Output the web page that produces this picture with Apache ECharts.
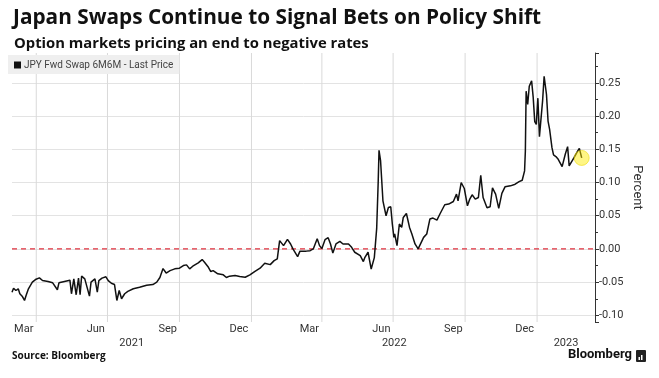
<!DOCTYPE html>
<html><head><meta charset="utf-8">
<script src="https://cdn.jsdelivr.net/npm/echarts@6/dist/echarts.min.js"></script>
<style>html,body{margin:0;padding:0;background:#fff}#c{width:659px;height:378px}</style>
</head><body><div id="c"></div>
<script>
const titleText = 'Japan Swaps Continue to Signal Bets on Policy Shift';
const subtitleText = 'Option markets pricing an end to negative rates';
const seriesName = 'JPY Fwd Swap 6M6M - Last Price';
const dates = [
'2021-03-01','2021-03-03','2021-03-06','2021-03-09','2021-03-11','2021-03-14','2021-03-17','2021-03-19','2021-03-22','2021-03-27',
'2021-03-31','2021-04-05','2021-04-09','2021-04-16','2021-04-22','2021-04-28','2021-04-30','2021-05-07','2021-05-14','2021-05-16',
'2021-05-19','2021-05-22','2021-05-25','2021-05-27','2021-05-29','2021-06-02','2021-06-08','2021-06-10','2021-06-15','2021-06-18',
'2021-06-20','2021-06-24','2021-06-29','2021-07-02','2021-07-06','2021-07-10','2021-07-13','2021-07-16','2021-07-19','2021-07-23',
'2021-07-27','2021-08-03','2021-08-11','2021-08-20','2021-08-28','2021-09-02','2021-09-06','2021-09-10','2021-09-14','2021-09-19',
'2021-09-25','2021-10-01','2021-10-06','2021-10-10','2021-10-14','2021-10-18','2021-10-25','2021-10-30','2021-11-02','2021-11-07',
'2021-11-10','2021-11-13','2021-11-19','2021-11-26','2021-11-30','2021-12-04','2021-12-11','2021-12-17','2021-12-24','2021-12-30',
'2022-01-05','2022-01-12','2022-01-18','2022-01-25','2022-01-30','2022-02-03','2022-02-06','2022-02-11','2022-02-16','2022-02-20',
'2022-02-23','2022-02-25','2022-03-01','2022-03-04','2022-03-12','2022-03-17','2022-03-21','2022-03-26','2022-03-29','2022-04-01',
'2022-04-05','2022-04-09','2022-04-12','2022-04-15','2022-04-19','2022-04-24','2022-04-28','2022-05-05','2022-05-09','2022-05-13',
'2022-05-20','2022-05-24','2022-05-26','2022-05-30','2022-06-03','2022-06-07','2022-06-10','2022-06-12','2022-06-13','2022-06-15',
'2022-06-18','2022-06-20','2022-06-22','2022-06-25','2022-06-28','2022-06-30','2022-07-02','2022-07-03','2022-07-06','2022-07-09',
'2022-07-12','2022-07-14','2022-07-18','2022-07-22','2022-07-25','2022-07-29','2022-08-02','2022-08-04','2022-08-09','2022-08-13',
'2022-08-17','2022-08-21','2022-08-26','2022-08-30','2022-09-05','2022-09-10','2022-09-16','2022-09-20','2022-09-22','2022-09-26',
'2022-09-30','2022-10-04','2022-10-07','2022-10-10','2022-10-14','2022-10-18','2022-10-21','2022-10-24','2022-10-29','2022-11-02',
'2022-11-05','2022-11-09','2022-11-13','2022-11-17','2022-11-21','2022-11-28','2022-12-04','2022-12-09','2022-12-13','2022-12-15',
'2022-12-16','2022-12-17','2022-12-18','2022-12-20','2022-12-22','2022-12-25','2022-12-27','2022-12-29','2022-12-31','2023-01-02',
'2023-01-04','2023-01-06','2023-01-08','2023-01-10','2023-01-13','2023-01-15','2023-01-17','2023-01-20','2023-01-22','2023-01-25',
'2023-01-28','2023-02-02','2023-02-06','2023-02-09','2023-02-11','2023-02-17','2023-02-22','2023-02-24','2023-02-27'
];
const values = [
-0.0651,-0.0591,-0.0626,-0.0600,-0.0675,-0.0711,-0.0776,-0.0700,-0.0600,-0.0500,
-0.0461,-0.0435,-0.0476,-0.0490,-0.0510,-0.0615,-0.0510,-0.0490,-0.0470,-0.0675,
-0.0450,-0.0690,-0.0440,-0.0690,-0.0410,-0.0450,-0.0710,-0.0500,-0.0450,-0.0650,
-0.0476,-0.0440,-0.0420,-0.0476,-0.0516,-0.0536,-0.0776,-0.0626,-0.0750,-0.0675,
-0.0640,-0.0600,-0.0576,-0.0546,-0.0536,-0.0500,-0.0430,-0.0296,-0.0363,-0.0326,
-0.0300,-0.0290,-0.0250,-0.0240,-0.0300,-0.0260,-0.0210,-0.0160,-0.0200,-0.0276,
-0.0340,-0.0326,-0.0375,-0.0390,-0.0430,-0.0410,-0.0400,-0.0415,-0.0426,-0.0390,
-0.0340,-0.0290,-0.0216,-0.0236,-0.0176,-0.0150,0.0125,0.0050,0.0144,0.0075,
0.0000,-0.0015,-0.0116,-0.0033,-0.0033,-0.0026,0.0000,0.0155,0.0050,0.0005,
0.0140,0.0170,0.0075,-0.0063,0.0075,0.0114,0.0075,0.0075,0.0024,-0.0050,
-0.0100,-0.0190,-0.0126,-0.0050,-0.0303,-0.0130,0.0305,0.1025,0.1485,0.1325,
0.0725,0.0750,0.0500,0.0624,0.0635,0.0375,0.0174,0.0225,0.0050,0.0375,
0.0324,0.0474,0.0534,0.0324,0.0225,0.0075,0.0000,0.0024,0.0174,0.0225,
0.0450,0.0465,0.0435,0.0530,0.0665,0.0675,0.0714,0.0825,0.0725,0.1000,
0.0910,0.0650,0.0750,0.0815,0.0750,0.0774,0.1110,0.0774,0.0620,0.0635,
0.0920,0.0825,0.0612,0.0837,0.0935,0.0950,0.0975,0.1014,0.1035,0.1050,
0.1175,0.1470,0.2375,0.2175,0.2450,0.2530,0.2285,0.1917,0.1875,0.2270,
0.1690,0.1670,0.2225,0.2600,0.2325,0.1925,0.1800,0.1524,0.1415,0.1390,
0.1350,0.1240,0.1425,0.1540,0.1250,0.1370,0.1475,0.1515,0.1370
];
const monthLabels = ['Mar','Jun','Sep','Dec','Mar','Jun','Sep','Dec'];
const monthLabelDates = ['2021-03-16','2021-06-16','2021-09-16','2021-12-16','2022-03-16','2022-06-16','2022-09-16','2022-12-16'];
const gridLineDates = ['2021-04-01','2021-07-01','2021-10-01','2022-01-01','2022-04-01','2022-07-01','2022-10-01','2023-01-01'];
const yearLabels = ['2021','2022','2023'];
const xStart = '2021-03-01', xEnd = '2023-03-16';
const yMin = -0.11, yMax = 0.295, yStep = 0.05;
const zeroLineValue = 0;

function ts(s){const p=s.split('-').map(Number);return Date.UTC(p[0],p[1]-1,p[2]);}
const xMin = ts(xStart), xMax = ts(xEnd);
const monthLabelTs = monthLabelDates.map(ts);
const gridTs = gridLineDates.map(ts);
const yearMidTs = yearLabels.map(y => {
  const a = Math.max(Date.UTC(+y,0,1), xMin), b = Math.min(Date.UTC(+y+1,0,1), xMax);
  return (a+b)/2;
});
const lineData = dates.map((d,i)=>[ts(d), values[i]]);
const last = lineData[lineData.length-1];
const nTicks = Math.floor((yMax+1e-9)/yStep) - Math.ceil((yMin-1e-9)/yStep) + 1;
const splitColors = ['rgba(0,0,0,0)'].concat(Array(nTicks).fill('#e3e3e3')).concat(['rgba(0,0,0,0)']);
const FONT = 'Roboto';
const TFONT = 'Open Sans';
const RED = '#e0323f';

const gridSeries = gridTs.map(t => ({
  type:'line', data:[[t,yMin],[t,yMax]], symbol:'none', showSymbol:false, silent:true, z:1, clip:false,
  lineStyle:{color:'#d9d9d9', width:1}, emphasis:{disabled:true}
}));

const chart = echarts.init(document.getElementById('c'), null, {renderer:'canvas'});
chart.setOption({
  animation:false,
  backgroundColor:'#fff',
  title:[
    {text:titleText, left:8, top:3, textStyle:{fontFamily:TFONT, fontWeight:'bold', fontSize:20.8, color:'#111'}},
    {text:subtitleText, left:9, top:31, textStyle:{fontFamily:TFONT, fontWeight:'bold', fontSize:14.8, color:'#111'}}
  ],
  legend:{data:[seriesName], left:8, top:55, backgroundColor:'#efefef', padding:[5,6,4,6], icon:'rect', itemWidth:7, itemHeight:7, itemGap:4,
    textStyle:{fontFamily:FONT, fontSize:10, color:'#444', padding:[0,0,0,-2]}},
  grid:{left:12, right:64, top:53, bottom:56, containLabel:false},
  xAxis:[
    {type:'value', min:xMin, max:xMax, position:'bottom',
      axisLine:{show:false}, axisTick:{show:false},
      splitLine:{show:false},
      axisLabel:{customValues:monthLabelTs, margin:2, fontFamily:FONT, fontSize:11, color:'#333',
        formatter:(v)=>{const i=monthLabelTs.indexOf(v);return i>=0?monthLabels[i]:'';}}},
    {type:'value', min:xMin, max:xMax, position:'bottom', offset:14,
      axisLine:{show:false}, axisTick:{show:false}, splitLine:{show:false},
      axisLabel:{customValues:yearMidTs, margin:2, fontFamily:FONT, fontSize:11, color:'#333',
        formatter:(v)=>{const i=yearMidTs.indexOf(v);return i>=0?yearLabels[i]:'';}}}
  ],
  yAxis:{type:'value', position:'right', min:yMin, max:yMax, minInterval:yStep, maxInterval:yStep,
    name:'Percent', nameLocation:'middle', nameRotate:-90, nameGap:36, nameMoveOverlap:false,
    nameTextStyle:{fontFamily:FONT, fontSize:13, color:'#333'},
    axisLine:{show:true, lineStyle:{color:'#333', width:1}},
    axisTick:{show:true, length:4, lineStyle:{color:'#333'}},
    minorTick:{show:true, splitNumber:2, length:3, lineStyle:{color:'#333'}},
    splitLine:{show:true, lineStyle:{color:splitColors, width:1}},
    axisLabel:{showMinLabel:false, showMaxLabel:false, margin:4, fontFamily:FONT, fontSize:11, color:'#333',
      formatter:(v)=>v.toFixed(2)}},
  series: gridSeries.concat([
    {type:'line', data:[[xMin,zeroLineValue],[xMax,zeroLineValue]], symbol:'none', silent:true, z:2,
      lineStyle:{color:RED, type:[5,4], width:1.2}, emphasis:{disabled:true}},
    {name:seriesName, type:'line', data:lineData, showSymbol:false, symbol:'none', color:'#111',
      lineStyle:{color:'#111', width:1.5}, z:3},
    {type:'scatter', data:[last], symbolSize:15, z:4, silent:true,
      itemStyle:{color:'rgba(255,236,0,0.6)', borderColor:'rgba(235,215,0,0.7)', borderWidth:1}}
  ]),
  graphic:[
    {type:'text', left:12, top:351, style:{text:'Source: Bloomberg', fontFamily:TFONT, fontWeight:'bold', fontSize:10, fill:'#111'}},
    {type:'text', right:27, top:348, style:{text:'Bloomberg', fontFamily:FONT, fontWeight:'bold', fontSize:13, fill:'#111'}},
    {type:'rect', right:13, top:350, shape:{width:10, height:12, r:1}, style:{fill:'#222'}},
    {type:'rect', right:19, top:357, shape:{width:1.5, height:3}, style:{fill:'#fff'}},
    {type:'rect', right:16.5, top:355, shape:{width:1.5, height:5}, style:{fill:'#fff'}}
  ]
});
</script></body></html>
